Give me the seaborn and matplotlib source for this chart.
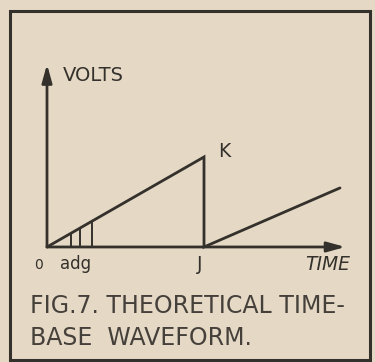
import matplotlib
matplotlib.use("Agg")
import matplotlib.pyplot as plt
import numpy as np
import pandas as pd
import seaborn as sns
from matplotlib.patches import Rectangle

# Sweep waveform: linear rise O->K, flyback K->J, next rise from J
wave_t = [0.0, 1.0, 1.0, 1.866]
wave_v = [0.0, 1.0, 0.0, 0.656]
# Equal-interval instants marked on the first rise
mark_t = [0.153, 0.21, 0.287]
mark_labels = ["a", "d", "g"]

paper = "#e5d9c6"
ink = "#34302b"

sns.set_theme(style="white")
plt.rcParams["font.family"] = ["DejaVu Sans"]

fig = plt.figure(figsize=(3.75, 3.62), dpi=100, facecolor=paper)
ax = fig.add_axes([0, 0, 1, 1])
ax.set_facecolor(paper)
ax.set_xlim(-0.2994, 2.0892)
ax.set_ylim(-1.2778, 2.744)
ax.axis("off")

df = pd.DataFrame({"t": wave_t, "v": wave_v})
sns.lineplot(data=df, x="t", y="v", sort=False, estimator=None,
             color=ink, lw=2.0, ax=ax, solid_joinstyle="miter")

# Ordinates at the marked instants, up to the ramp
mark_v = np.interp(mark_t, wave_t[:2], wave_v[:2])
ax.vlines(mark_t, 0, mark_v, color=ink, lw=1.4)

# Axes with arrow heads
arrow = dict(arrowstyle="-|>,head_length=0.9,head_width=0.25", color=ink, lw=2.0,
             shrinkA=0, shrinkB=0)
ax.annotate("", xy=(0, 2.03), xytext=(0, 0), arrowprops=arrow)
ax.annotate("", xy=(1.90, 0), xytext=(0, 0), arrowprops=arrow)

txt = dict(color=ink, fontweight="normal")
ax.text(0.10, 1.91, "VOLTS", fontsize=14, ha="left", va="center", **txt)
ax.text(1.09, 1.06, "K", fontsize=13.5, ha="left", va="center", **txt)
ax.text(wave_t[1] - 0.03, -0.20, "J", fontsize=13.5, ha="center", va="center", **txt)
ax.text(-0.057, -0.20, "0", fontsize=10, ha="center", va="center", **txt)
ax.text(mark_t[0] - 0.07, -0.19, "".join(mark_labels), fontsize=12,
        ha="left", va="center", **txt)
ax.text(1.79, -0.20, "TIME", fontsize=13.5, ha="center", va="center",
        style="italic", **txt)

fig.text(0.08, 0.155, "FIG.7. THEORETICAL TIME-", fontsize=17, ha="left",
         va="center", color="#45403a")
fig.text(0.08, 0.066, "BASE  WAVEFORM.", fontsize=17, ha="left",
         va="center", color="#45403a")

# Drawn border
fig.patches.append(Rectangle((10 / 375, 2 / 362), 360 / 375, 349 / 362,
                             transform=fig.transFigure, fill=False,
                             edgecolor=ink, lw=2.2))

fig.savefig("out.png", dpi=100, facecolor=paper)
